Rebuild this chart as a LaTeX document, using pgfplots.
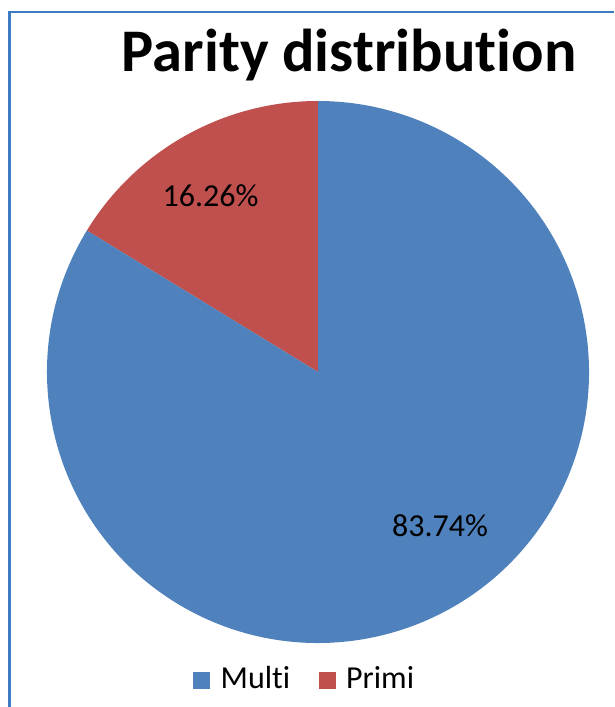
\documentclass[border=0pt]{standalone}
\usepackage{fontspec}
\setmainfont{Carlito}[Ligatures=NoCommon]
\usepackage{pgfplots}
\pgfplotsset{compat=1.18}

\definecolor{multiblue}{HTML}{4F81BD}
\definecolor{primired}{HTML}{C0504D}
\definecolor{frameblue}{HTML}{3D7CC2}

% shares in percent
\newcommand\primi{16.26}
\newcommand\multi{83.74}

\begin{document}
\begin{tikzpicture}[x=1pt,y=1pt]
\useasboundingbox (0,0) rectangle (614,707);
% chart frame (only left and top edges visible)
\draw[frameblue, line width=2.6pt] (9.5,0) -- (9.5,695) -- (614,695);

\begin{axis}[
    at={(318pt,335pt)}, anchor=center,
    scale only axis,
    width=542pt, height=542pt,
    xmin=-1, xmax=1, ymin=-1, ymax=1,
    hide axis, clip=false,
]
\pgfmathsetmacro\a{90+3.6*\primi}
% Primi slice, counterclockwise from the top
\fill[primired] (axis cs:0,0) -- (axis cs:0,1)
    arc[start angle=90, end angle=\a, radius=271pt] -- cycle;
% Multi slice, the rest
\fill[multiblue] (axis cs:0,0) -- (axis cs:{cos(\a)},{sin(\a)})
    arc[start angle=\a, end angle=450, radius=271pt] -- cycle;
\end{axis}

% data labels
\node[anchor=base, inner sep=0, font=\fontsize{32}{38}\selectfont] at (210.5,500) {\primi\%};
\node[anchor=base, inner sep=0, font=\fontsize{32}{38}\selectfont] at (440,170) {\multi\%};

% title
\node[anchor=base, inner sep=0, font=\fontsize{60.5}{70}\selectfont\bfseries] at (349,635) {Parity distribution};

% legend
\fill[multiblue] (192.5,18) rectangle +(17,17);
\node[anchor=base west, inner sep=0, font=\fontsize{32}{38}\selectfont] at (220.5,18) {Multi};
\fill[primired] (318.5,18) rectangle +(17,17);
\node[anchor=base west, inner sep=0, font=\fontsize{32}{38}\selectfont] at (346,18) {Primi};
\end{tikzpicture}
\end{document}
